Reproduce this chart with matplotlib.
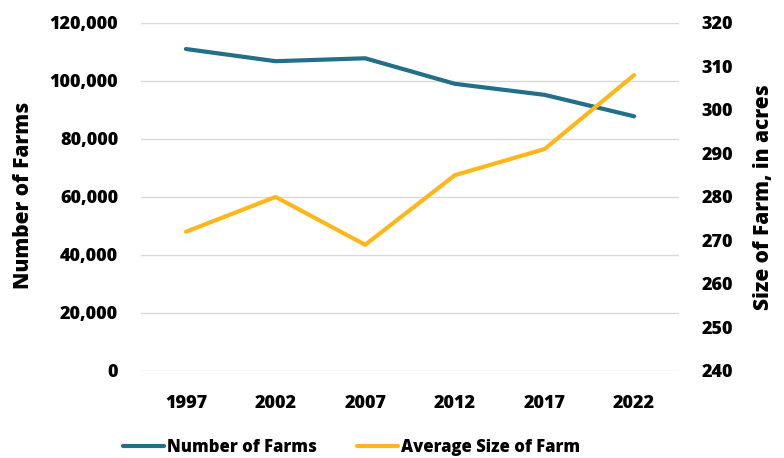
import matplotlib
matplotlib.use("Agg")
import matplotlib.pyplot as plt
from matplotlib.ticker import FuncFormatter

years = ["1997", "2002", "2007", "2012", "2017", "2022"]
num_farms = [111000, 106800, 107800, 99000, 95200, 87800]
avg_size = [272, 280, 269, 285, 291, 308]

left_ticks = [0, 20000, 40000, 60000, 80000, 100000, 120000]
right_ticks = [240, 250, 260, 270, 280, 290, 300, 310, 320]

teal = "#226F88"
gold = "#FDB71B"

plt.rcParams["font.family"] = ["Open Sans", "DejaVu Sans"]
plt.rcParams["font.weight"] = 800

fig = plt.figure(figsize=(7.84, 4.58), dpi=100)
ax = fig.add_axes([0.18, 0.19, 0.686, 0.76])
ax2 = ax.twinx()

x = list(range(len(years)))
l1, = ax.plot(x, num_farms, color=teal, lw=3.0, solid_capstyle="round",
              label="Number of Farms", zorder=3)
l2, = ax2.plot(x, avg_size, color=gold, lw=3.0, solid_capstyle="round",
               label="Average Size of Farm", zorder=3)

ax.set_xlim(-0.5, len(years) - 0.5)
ax.set_ylim(0, 120000)
ax2.set_ylim(240, 320)
ax.set_yticks(left_ticks)
ax2.set_yticks(right_ticks)
ax.yaxis.set_major_formatter(FuncFormatter(lambda v, p: f"{int(v):,}"))
ax.set_xticks(x)
ax.set_xticklabels(years)

ax.grid(axis="y", color="#D9D9D9", lw=1.0)
ax.set_axisbelow(True)
for a in (ax, ax2):
    for s in a.spines.values():
        s.set_visible(False)
    a.tick_params(length=0, labelsize=13)
ax.tick_params(axis="y", pad=16.5)
ax.tick_params(axis="x", pad=17)
ax2.tick_params(axis="y", pad=16)

ax.set_ylabel("Number of Farms", fontsize=15, fontweight=800)
ax2.set_ylabel("Size of Farm, in acres", fontsize=15, fontweight=800)
ax.yaxis.set_label_coords(-0.2, 0.505)
ax2.yaxis.set_label_coords(1.138, 0.5)

fig.legend(handles=[l1, l2], loc="center", bbox_to_anchor=(0.448, 0.024),
           ncol=2, frameon=False, fontsize=12, handlelength=2.5,
           columnspacing=2.4, handletextpad=0.15)

fig.savefig("out.png", dpi=100)
